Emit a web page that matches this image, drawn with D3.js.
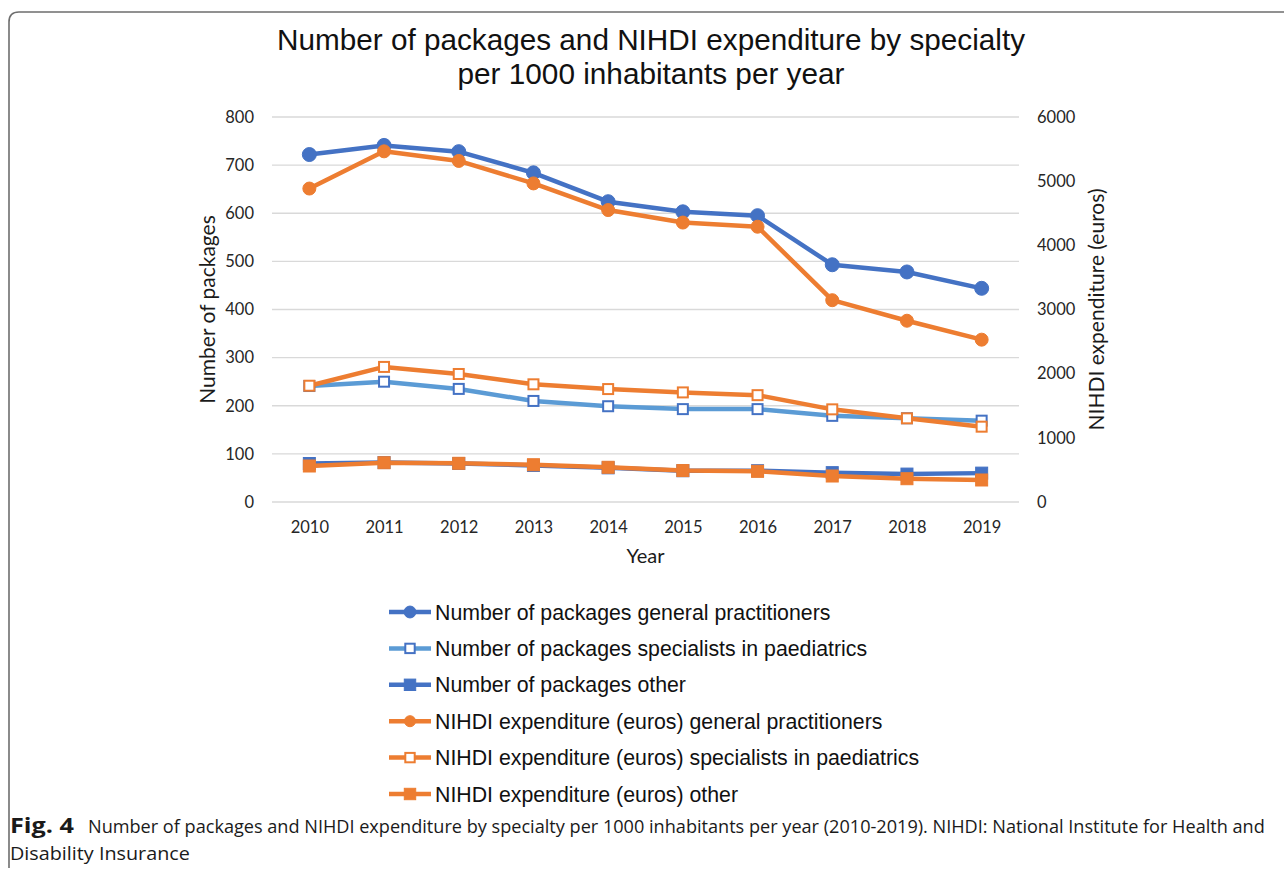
<!DOCTYPE html>
<html>
<head>
<meta charset="utf-8">
<script src="https://cdn.jsdelivr.net/npm/d3@7"></script>
<style>
  html, body { margin: 0; padding: 0; background: #fff; }
  svg { display: block; }
</style>
</head>
<body>
<svg id="chart" width="1284" height="871"></svg>
<script>
// Years on the category axis
const years = ["2010","2011","2012","2013","2014","2015","2016","2017","2018","2019"];

// Number of packages per 1000 inhabitants (left axis)
const packagesGP    = [722, 741, 728, 684, 624, 603, 595, 493, 478, 444];
const packagesPaed  = [241, 250, 235, 210, 199, 193, 193, 179, 174, 169];
const packagesOther = [80, 82, 80, 76, 71, 65, 65, 61, 58, 60];

// NIHDI expenditure (euros) per 1000 inhabitants (right axis)
const expenditureGP    = [4885, 5465, 5315, 4965, 4550, 4355, 4290, 3145, 2825, 2530];
const expenditurePaed  = [1812, 2105, 1995, 1834, 1760, 1708, 1665, 1444, 1304, 1174];
const expenditureOther = [561, 612, 603, 581, 541, 490, 478, 405, 363, 343];

// Tick values for the two value axes
const leftTicks  = [0, 100, 200, 300, 400, 500, 600, 700, 800];
const rightTicks = [0, 1000, 2000, 3000, 4000, 5000, 6000];

const legendLabels = [
  "Number of packages general practitioners",
  "Number of packages specialists in paediatrics",
  "Number of packages other",
  "NIHDI expenditure (euros) general practitioners",
  "NIHDI expenditure (euros) specialists in paediatrics",
  "NIHDI expenditure (euros) other"
];

const BLUE = "#4472C4", LIGHTBLUE = "#5B9BD5", ORANGE = "#ED7D31";

const series = [
  { name: legendLabels[0], values: packagesGP,    axis: "left",  line: BLUE,      marker: "circle", r: 7,   fill: BLUE,   stroke: BLUE },
  { name: legendLabels[1], values: packagesPaed,  axis: "left",  line: LIGHTBLUE, marker: "square", s: 12,  fill: "#fff", stroke: BLUE },
  { name: legendLabels[2], values: packagesOther, axis: "left",  line: BLUE,      marker: "square", s: 12,  fill: BLUE,   stroke: BLUE },
  { name: legendLabels[3], values: expenditureGP,    axis: "right", line: ORANGE, marker: "circle", r: 6.5, fill: ORANGE, stroke: ORANGE },
  { name: legendLabels[4], values: expenditurePaed,  axis: "right", line: ORANGE, marker: "square", s: 12,  fill: "#fff", stroke: ORANGE },
  { name: legendLabels[5], values: expenditureOther, axis: "right", line: ORANGE, marker: "square", s: 12,  fill: ORANGE, stroke: ORANGE }
];

const svg = d3.select("#chart");

// Outer figure frame (rounded top-left corner, open to the right)
svg.append("path")
  .attr("d", "M9,868 L9,22 Q9,12 19,12 L1290,12")
  .attr("fill", "none")
  .attr("stroke", "#6e6e6e")
  .attr("stroke-width", 1.6);

const plot = { left: 272, right: 1019, top: 117, bottom: 502 };

const x = d3.scalePoint().domain(years).range([plot.left, plot.right]).padding(0.5);
const yL = d3.scaleLinear().domain([0, 800]).range([plot.bottom, plot.top]);
const yR = d3.scaleLinear().domain([0, 6000]).range([plot.bottom, plot.top]);

const tickFont = "Lato, 'Open Sans', sans-serif";

// Horizontal gridlines
svg.append("g")
  .selectAll("line")
  .data(leftTicks)
  .join("line")
  .attr("x1", plot.left).attr("x2", plot.right)
  .attr("y1", d => yL(d)).attr("y2", d => yL(d))
  .attr("stroke", "#d9d9d9").attr("stroke-width", 1.3);

// Left axis
const leftAxis = svg.append("g")
  .attr("transform", `translate(${plot.left},0)`)
  .call(d3.axisLeft(yL).tickValues(leftTicks).tickFormat(d3.format("d")).tickSize(0).tickPadding(18));
leftAxis.select(".domain").remove();
leftAxis.selectAll("text")
  .attr("font-family", tickFont).attr("font-size", 16.5).attr("fill", "#262626");

// Right axis
const rightAxis = svg.append("g")
  .attr("transform", `translate(${plot.right},0)`)
  .call(d3.axisRight(yR).tickValues(rightTicks).tickFormat(d3.format("d")).tickSize(0).tickPadding(18));
rightAxis.select(".domain").remove();
rightAxis.selectAll("text")
  .attr("font-family", tickFont).attr("font-size", 16.5).attr("fill", "#262626");

// Bottom axis
const bottomAxis = svg.append("g")
  .attr("transform", `translate(0,${plot.bottom})`)
  .call(d3.axisBottom(x).tickSize(0).tickPadding(19));
bottomAxis.select(".domain").remove();
bottomAxis.selectAll("text")
  .attr("font-family", tickFont).attr("font-size", 16.5).attr("fill", "#262626");

// Axis titles
svg.append("text")
  .attr("transform", `translate(215,${(plot.top + plot.bottom) / 2}) rotate(-90)`)
  .attr("text-anchor", "middle")
  .attr("font-family", tickFont).attr("font-size", 21).attr("fill", "#1a1a1a")
  .text("Number of packages");

svg.append("text")
  .attr("transform", `translate(1104,${(plot.top + plot.bottom) / 2}) rotate(-90)`)
  .attr("text-anchor", "middle")
  .attr("font-family", tickFont).attr("font-size", 21).attr("fill", "#1a1a1a")
  .text("NIHDI expenditure (euros)");

svg.append("text")
  .attr("x", (plot.left + plot.right) / 2).attr("y", 563)
  .attr("text-anchor", "middle")
  .attr("font-family", tickFont).attr("font-size", 20).attr("fill", "#1a1a1a")
  .text("Year");

// Title (two centred lines)
const titleFont = "'Liberation Sans', Arial, sans-serif";
svg.append("text")
  .attr("x", 651).attr("y", 50)
  .attr("text-anchor", "middle")
  .attr("font-family", titleFont).attr("font-size", 29.5).attr("fill", "#111")
  .attr("textLength", 748).attr("lengthAdjust", "spacingAndGlyphs")
  .text("Number of packages and NIHDI expenditure by specialty");
svg.append("text")
  .attr("x", 651).attr("y", 84)
  .attr("text-anchor", "middle")
  .attr("font-family", titleFont).attr("font-size", 29.5).attr("fill", "#111")
  .attr("textLength", 387).attr("lengthAdjust", "spacingAndGlyphs")
  .text("per 1000 inhabitants per year");

// Marker drawing helper
function drawMarker(g, s, cx, cy, scale = 1) {
  if (s.marker === "circle") {
    g.append("circle")
      .attr("cx", cx).attr("cy", cy).attr("r", s.r * scale)
      .attr("fill", s.fill).attr("stroke", s.stroke).attr("stroke-width", 1);
  } else {
    const size = s.s * scale;
    const hollow = s.fill === "#fff";
    const sz = hollow ? size - 2 : size;
    g.append("rect")
      .attr("x", cx - sz / 2).attr("y", cy - sz / 2)
      .attr("width", sz).attr("height", sz)
      .attr("fill", s.fill).attr("stroke", s.stroke)
      .attr("stroke-width", hollow ? 2 : 1);
  }
}

// Series lines and markers
const lineLayer = svg.append("g");
series.forEach(s => {
  const yScale = s.axis === "left" ? yL : yR;
  const line = d3.line()
    .x((d, i) => x(years[i]))
    .y(d => yScale(d));
  const g = lineLayer.append("g");
  g.append("path")
    .datum(s.values)
    .attr("d", line)
    .attr("fill", "none")
    .attr("stroke", s.line)
    .attr("stroke-width", 4.5)
    .attr("stroke-linejoin", "round")
    .attr("stroke-linecap", "round");
  s.values.forEach((v, i) => drawMarker(g, s, x(years[i]), yScale(v)));
});

// Legend
const legend = svg.append("g");
const legendY0 = 612, legendStep = 36.4;
series.forEach((s, i) => {
  const ly = legendY0 + i * legendStep;
  const g = legend.append("g");
  g.append("line")
    .attr("x1", 389).attr("x2", 431).attr("y1", ly).attr("y2", ly)
    .attr("stroke", s.line).attr("stroke-width", 4.5);
  drawMarker(g, s, 410, ly, s.marker === "circle" ? 0.85 : 0.95);
  g.append("text")
    .attr("x", 435).attr("y", ly + 7.5)
    .attr("font-family", titleFont)
    .attr("font-size", 21.3).attr("fill", "#111")
    .text(s.name);
});

// Figure caption: each run is drawn at full size, then fitted horizontally
// to the condensed width of the journal caption style.
const capFont = "'Open Sans', 'Noto Sans', sans-serif";
function captionText(str, x0, y0, width, bold, size) {
  const t = svg.append("text")
    .attr("font-family", capFont)
    .attr("font-weight", bold ? 700 : 400)
    .attr("font-size", size).attr("fill", "#1a1a1a")
    .text(str);
  const natural = t.node().getComputedTextLength();
  const k = width / natural;
  t.attr("transform", `translate(${x0},${y0}) scale(${k},1)`);
}
captionText("Fig. 4", 10, 833, 64, true, 20.5);
captionText("Number of packages and NIHDI expenditure by specialty per 1000 inhabitants per year (2010-2019). NIHDI: National Institute for Health and", 88, 833, 1178, false, 18.5);
captionText("Disability Insurance", 10, 860, 180, false, 18.5);
</script>
</body>
</html>
